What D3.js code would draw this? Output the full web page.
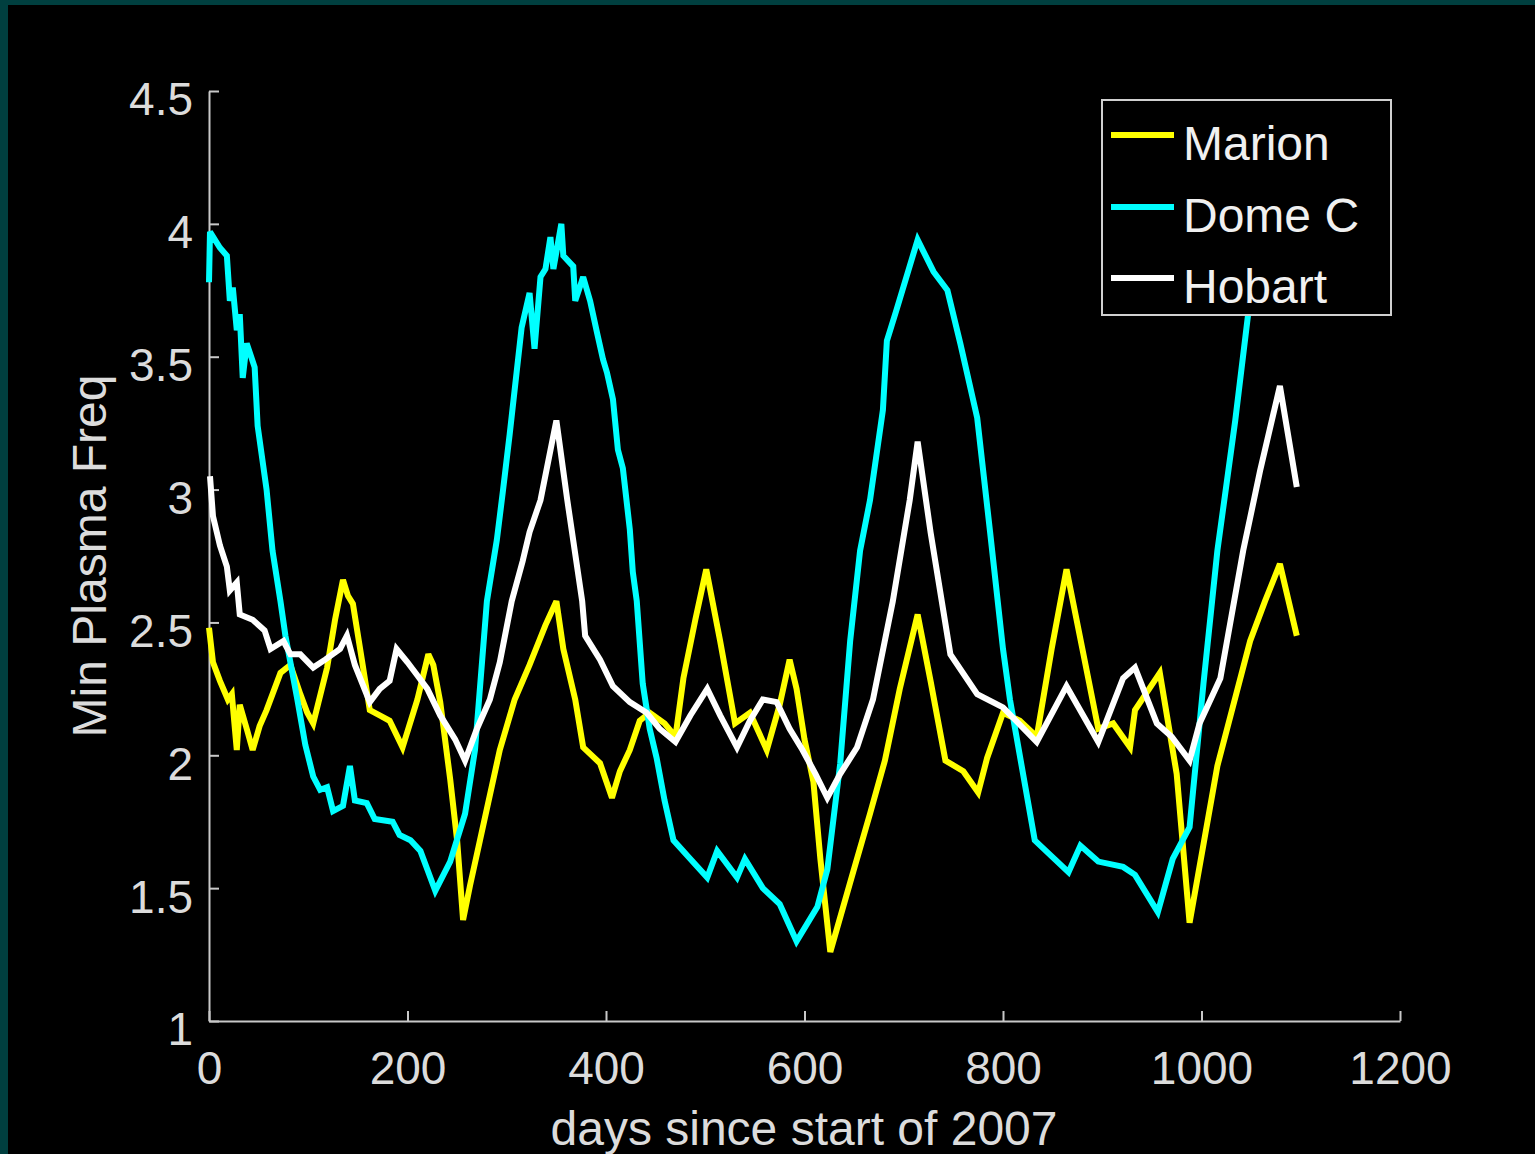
<!DOCTYPE html>
<html>
<head>
<meta charset="utf-8">
<script src="https://cdn.jsdelivr.net/npm/d3@7"></script>
<style>
  html, body { margin: 0; padding: 0; background: #003f3f; }
  svg { display: block; }
  text { font-family: "Liberation Sans", Arial, Helvetica, sans-serif; }
</style>
</head>
<body>
<script>
// ---- Data ----
const seriesNames = ["Marion", "Dome C", "Hobart"];
const seriesColors = ["#ffff00", "#00ffff", "#ffffff"];

const xTicks = [0, 200, 400, 600, 800, 1000, 1200];
const yTicks = [1, 1.5, 2, 2.5, 3, 3.5, 4, 4.5];

const marionDays = [0,4,11,19,23,28,31,38,44,51,58,72,82,92,99,105,119,127,135,140,145,154,162,172,182,195,210,221,226,233,243,250,256,263,273,293,308,323,339,350,357,369,377,394,406,414,424,434,444,459,470,478,490,501,515,530,545,562,575,585,592,600,609,616,626,649,666,681,696,714,727,742,760,775,784,800,817,834,849,864,880,896,911,928,933,958,975,988,1016,1049,1064,1079,1096];
const marionVals = [2.48,2.35,2.28,2.21,2.23,2.02,2.19,2.10,2.02,2.11,2.17,2.31,2.34,2.23,2.16,2.12,2.33,2.51,2.66,2.60,2.57,2.36,2.17,2.15,2.13,2.03,2.21,2.38,2.34,2.20,1.91,1.68,1.38,1.51,1.68,2.02,2.21,2.34,2.49,2.58,2.40,2.21,2.03,1.97,1.84,1.94,2.02,2.13,2.16,2.12,2.07,2.29,2.51,2.70,2.43,2.12,2.16,2.02,2.19,2.36,2.25,2.06,1.90,1.61,1.26,1.56,1.78,1.98,2.25,2.53,2.28,1.98,1.94,1.86,1.99,2.16,2.13,2.07,2.40,2.70,2.40,2.10,2.12,2.03,2.17,2.31,1.93,1.37,1.96,2.43,2.58,2.72,2.45];

const domeDays = [0,1,11,18,21,24,28,31,34,38,46,49,58,64,72,77,89,97,105,112,119,125,135,142,147,159,167,185,192,203,213,220,228,243,258,268,280,290,296,303,315,323,328,334,339,344,347,355,357,367,369,377,384,391,397,401,407,412,417,424,427,431,437,444,451,459,468,485,502,512,532,540,558,575,592,613,623,636,646,656,666,679,683,693,714,730,744,757,774,787,800,807,832,866,878,896,921,933,956,971,988,1002,1016,1034,1047,1064,1080,1095];
const domeVals = [3.78,3.97,3.91,3.88,3.71,3.76,3.60,3.66,3.42,3.55,3.46,3.24,3.00,2.77,2.58,2.45,2.21,2.04,1.92,1.87,1.88,1.79,1.81,1.96,1.83,1.82,1.76,1.75,1.70,1.68,1.64,1.57,1.49,1.60,1.78,2.02,2.58,2.81,2.99,3.21,3.61,3.74,3.53,3.80,3.83,3.95,3.83,4.00,3.88,3.84,3.71,3.80,3.71,3.59,3.49,3.44,3.34,3.15,3.08,2.85,2.69,2.58,2.27,2.10,1.99,1.83,1.68,1.61,1.54,1.64,1.54,1.61,1.50,1.44,1.30,1.43,1.57,1.97,2.43,2.77,2.96,3.30,3.56,3.68,3.94,3.82,3.75,3.55,3.27,2.84,2.40,2.21,1.68,1.56,1.66,1.60,1.58,1.55,1.41,1.61,1.73,2.27,2.77,3.26,3.66,4.20,4.10,3.90];

const hobartDays = [1,4,11,18,21,28,31,44,56,62,75,82,92,105,117,132,139,147,162,172,182,189,200,210,220,233,248,258,270,283,293,305,316,323,334,350,361,376,379,394,407,424,441,454,470,485,502,515,532,545,558,572,585,598,611,623,636,653,669,689,706,714,727,747,774,800,834,864,896,921,933,955,970,988,998,1019,1042,1059,1079,1096];
const hobartVals = [3.05,2.90,2.79,2.71,2.62,2.65,2.53,2.51,2.47,2.40,2.43,2.38,2.38,2.33,2.36,2.40,2.45,2.34,2.20,2.25,2.28,2.40,2.35,2.30,2.25,2.15,2.06,1.98,2.10,2.21,2.35,2.58,2.73,2.84,2.96,3.26,2.96,2.58,2.45,2.36,2.26,2.20,2.16,2.10,2.05,2.15,2.25,2.15,2.03,2.13,2.21,2.20,2.10,2.02,1.93,1.84,1.93,2.03,2.21,2.58,2.96,3.18,2.84,2.38,2.23,2.18,2.05,2.26,2.05,2.29,2.33,2.12,2.07,1.98,2.12,2.29,2.77,3.07,3.39,3.01];

// ---- Layout ----
const W = 1535, H = 1154;
const svg = d3.select("body").append("svg").attr("width", W).attr("height", H);

// teal frame (left & top) + black plotting area
svg.append("rect").attr("x", 0).attr("y", 0).attr("width", W).attr("height", H).attr("fill", "#003f3f");
svg.append("rect").attr("x", 8).attr("y", 5).attr("width", W - 8).attr("height", H - 5).attr("fill", "#000000");

const x = d3.scaleLinear().domain([0, 1200]).range([209, 1400]);
const y = d3.scaleLinear().domain([1, 4.5]).range([1021, 91]);

const axisColor = "#c8c8c8";
const textColor = "#dcdcdc";

// X axis
const gx = svg.append("g").attr("transform", "translate(0,1021)")
  .call(d3.axisBottom(x).tickValues(xTicks).tickFormat(d3.format("d")).tickSize(-10).tickSizeOuter(0).tickPadding(30));
gx.select(".domain").attr("stroke", axisColor).attr("stroke-width", 2);
gx.selectAll(".tick line").attr("stroke", axisColor).attr("stroke-width", 2);
gx.selectAll(".tick text").attr("fill", textColor).attr("font-size", 46)
  .attr("font-family", '"Liberation Sans", Arial, sans-serif');

// Y axis
const gy = svg.append("g").attr("transform", "translate(209,0)")
  .call(d3.axisLeft(y).tickValues(yTicks).tickFormat(d => String(d)).tickSize(-10).tickSizeOuter(0).tickPadding(16));
gy.select(".domain").attr("stroke", axisColor).attr("stroke-width", 2);
gy.selectAll(".tick line").attr("stroke", axisColor).attr("stroke-width", 2);
gy.selectAll(".tick text").attr("fill", textColor).attr("font-size", 46).attr("dy", "0.52em")
  .attr("font-family", '"Liberation Sans", Arial, sans-serif');

// Axis titles
svg.append("text").attr("x", 804).attr("y", 1145).attr("text-anchor", "middle")
  .attr("fill", textColor).attr("font-size", 48).text("days since start of 2007");
svg.append("text").attr("transform", "translate(106,556) rotate(-90)").attr("text-anchor", "middle")
  .attr("fill", textColor).attr("font-size", 48).text("Min Plasma Freq");

// Lines
const series = [
  { days: marionDays, vals: marionVals },
  { days: domeDays, vals: domeVals },
  { days: hobartDays, vals: hobartVals }
];
const line = d3.line().x(d => x(d[0])).y(d => y(d[1]));
series.forEach((s, i) => {
  const pts = s.days.map((d, k) => [d, s.vals[k]]);
  svg.append("path").datum(pts).attr("d", line)
    .attr("fill", "none").attr("stroke", seriesColors[i]).attr("stroke-width", 6)
    .attr("stroke-linejoin", "miter").attr("stroke-miterlimit", 3);
});

// Legend
const lg = svg.append("g");
lg.append("rect").attr("x", 1102).attr("y", 100).attr("width", 289).attr("height", 215)
  .attr("fill", "#000").attr("stroke", "#d0d0d0").attr("stroke-width", 2);
const legY = [135, 207, 278];
seriesNames.forEach((n, i) => {
  lg.append("line").attr("x1", 1111).attr("x2", 1174).attr("y1", legY[i]).attr("y2", legY[i])
    .attr("stroke", seriesColors[i]).attr("stroke-width", 6);
  lg.append("text").attr("x", 1183).attr("y", legY[i] + 25).attr("fill", "#f0f0f0")
    .attr("font-size", 48).text(n);
});
</script>
</body>
</html>
